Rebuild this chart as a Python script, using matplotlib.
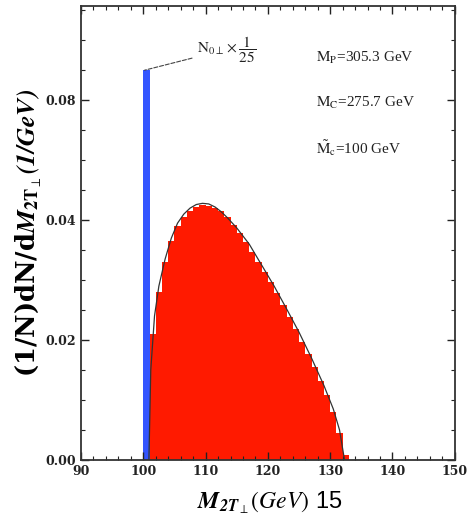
import matplotlib
matplotlib.use("Agg")
import matplotlib.pyplot as plt
from matplotlib.ticker import MultipleLocator, FixedLocator, FixedFormatter

plt.rcParams["mathtext.fontset"] = "stix"

# histogram bins (GeV) and normalized heights
red_edges = [101, 102, 103, 104, 105, 106, 107, 108, 109, 110, 111, 112, 113, 114, 115, 116,
             117, 118, 119, 120, 121, 122, 123, 124, 125, 126, 127, 128, 129, 130, 131, 132, 133]
red_vals = [0.021, 0.028, 0.033, 0.0365, 0.039, 0.0405, 0.0415, 0.0422, 0.0425, 0.0424, 0.0421,
            0.0416, 0.0405, 0.0392, 0.0378, 0.0363, 0.0347, 0.0331, 0.0314, 0.0296, 0.0278,
            0.0258, 0.0238, 0.0218, 0.0197, 0.0176, 0.0155, 0.0132, 0.0108, 0.0080, 0.0045, 0.0008]
blue_edges = [100.0, 101.0]
blue_vals = [0.065]

curve_x = [100.9, 101.2, 101.8, 102.5, 103.5, 104.5, 105.5, 106.5, 107.5, 108.5, 109.5, 110.5,
           111.5, 112.5, 113.5, 115.0, 117.0, 119.0, 121.0, 123.0, 125.0, 127.0, 129.0, 130.5,
           131.5, 132.3]
curve_y = [0.0, 0.015, 0.024, 0.029, 0.0335, 0.037, 0.0395, 0.041, 0.042, 0.0426, 0.0428, 0.0427,
           0.0422, 0.0414, 0.0404, 0.0387, 0.036, 0.0325, 0.029, 0.0252, 0.0213, 0.017, 0.0124,
           0.0085, 0.005, 0.0]

x_ticks = [90, 100, 110, 120, 130, 140, 150]
y_ticks = [0.0, 0.02, 0.04, 0.06]
y_ticklabels = ["0.00", "0.02", "0.04", "0.08"]

fig = plt.figure(figsize=(4.69, 5.26), dpi=100)
ax = fig.add_axes([0.1727, 0.1255, 0.797, 0.863])

ax.stairs(red_vals, red_edges, fill=True, color="#ff1a00", linewidth=0)
ax.stairs(blue_vals, blue_edges, fill=True, color="#3355ff", linewidth=0)
ax.plot(curve_x, curve_y, color="#333333", lw=0.9)

ax.set_xlim(90, 150)
ax.set_ylim(0, 0.0757)
ax.xaxis.set_major_locator(FixedLocator(x_ticks))
ax.xaxis.set_minor_locator(MultipleLocator(2))
ax.yaxis.set_major_locator(FixedLocator(y_ticks))
ax.yaxis.set_major_formatter(FixedFormatter(y_ticklabels))
ax.yaxis.set_minor_locator(MultipleLocator(0.005))
ax.tick_params(which="both", direction="in", top=True, right=True, colors="#222222")
ax.tick_params(which="major", length=6, width=1.0, labelsize=9)
ax.tick_params(which="minor", length=3, width=0.8)
for lab in ax.get_xticklabels() + ax.get_yticklabels():
    lab.set_fontfamily("DejaVu Serif")
    lab.set_fontweight("bold")
for s in ax.spines.values():
    s.set_color("#333333")
    s.set_linewidth(1.3)

ax.set_ylabel(r"(1/N)dN/d$\mathbfit{M}_{\mathbf{2T}_{\perp}}\mathbfit{(1/GeV)}$",
              fontsize=18.5, fontweight="bold", family="DejaVu Serif", labelpad=1)
fig.text(0.575, 0.045, r"$\mathbfit{M}_{\mathbfit{2T}_{\perp}}\mathit{(GeV)}$ 15", fontsize=17,
         ha="center", va="center", family="Liberation Sans")

ax.annotate(r"$\mathrm{N_{0\perp}}\times\dfrac{1}{25}$", xy=(100.2, 0.065), xytext=(108.7, 0.0685),
            fontsize=11, family="Liberation Serif", va="center", color="#222222",
            arrowprops=dict(arrowstyle="-", linestyle="--", color="#444444", lw=0.8,
                            shrinkA=2, shrinkB=0))

labels = [r"$\mathrm{M_P}$=305.3 GeV", r"$\mathrm{M_C}$=275.7 GeV", r"$\mathrm{\tilde{M}_c}$=100 GeV"]
ys = [0.0670, 0.0595, 0.0520]
for t, y in zip(labels, ys):
    ax.text(127.8, y, t, fontsize=11, family="Liberation Serif", va="center", color="#222222")

fig.savefig("out.png", dpi=100)
